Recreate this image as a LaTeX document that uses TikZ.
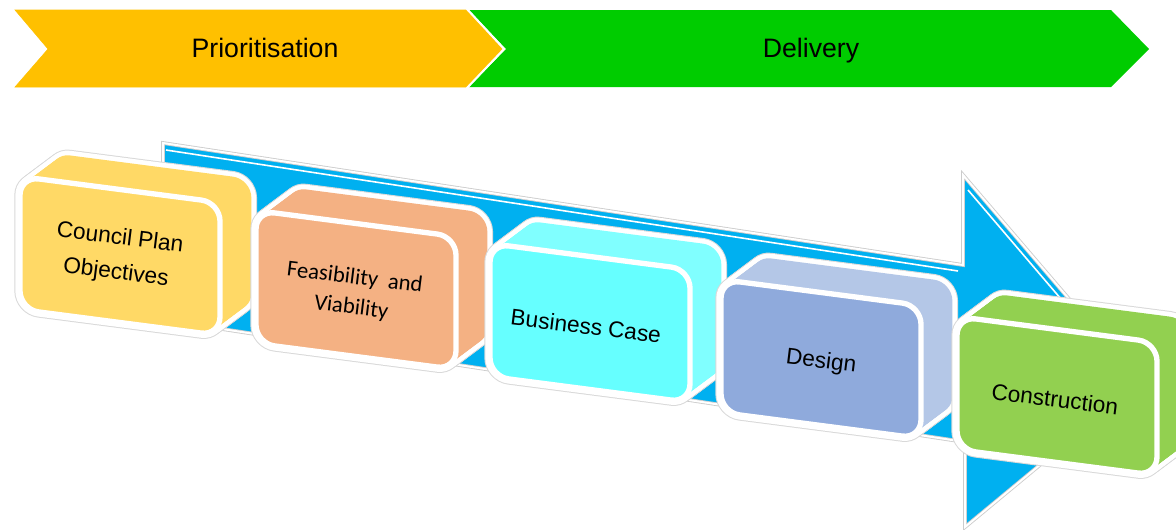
\documentclass[tikz,border=0pt]{standalone}
\usepackage{fontspec}
\setmainfont{Liberation Sans}
\newfontfamily\carlito{Carlito}
\definecolor{prioorange}{HTML}{FFC000}
\definecolor{delgreen}{HTML}{00CC00}
\definecolor{flowblue}{HTML}{00B0F0}
\definecolor{plancol}{HTML}{FFD966}
\definecolor{feascol}{HTML}{F4B183}
\definecolor{casecol}{HTML}{66FFFF}
\definecolor{caseside}{HTML}{80FFFF}
\definecolor{designcol}{HTML}{8FAADC}
\definecolor{designside}{HTML}{B4C7E7}
\definecolor{buildcol}{HTML}{92D050}

% 3D stage box: centre, side colour, front colour
\newcommand{\stagebox}[3]{%
  \begin{scope}[shift={(#1)},yslant=-0.13,rounded corners=14pt]
    \foreach \t in {0,0.05,...,1}
      \draw[gray!30,line width=8.5pt] (33*\t-100,-29*\t-66.5) rectangle ++(200,133);
    \foreach \t in {0,0.05,...,1}
      \draw[white,line width=7pt] (33*\t-100,-29*\t-66.5) rectangle ++(200,133);
    \foreach \t in {0,0.05,...,1}
      \fill[#2] (33*\t-100,-29*\t-66.5) rectangle ++(200,133);
    \draw[white,line width=4pt,fill=#3] (-100,-66.5) rectangle (100,66.5);
  \end{scope}
}

\begin{document}
\begin{tikzpicture}[x=0.75pt,y=-0.75pt,
    phase/.style={anchor=base,font=\fontsize{20}{24}\selectfont},
    stage text/.style={rotate=-7,align=center,font=\fontsize{17}{26}\selectfont}]
  \useasboundingbox (0,0) rectangle (1176,529);
  \clip (0,0) rectangle (1176,529);

  % phase banner
  \fill[delgreen] (469,10) -- (1111,10) -- (1149,49) -- (1111,87) -- (469,87) -- (506,49) -- cycle;
  \draw[prioorange,fill=prioorange] (15,10) -- (466,10) -- (503,49) -- (466,87) -- (15,87) -- (48,49) -- cycle;
  \draw[white,line width=1.5pt] (467,9) -- (504,49) -- (467,88);
  \node[phase] (prio) at (265,57) {Prioritisation};
  \node[phase] (deliv) at (811,57) {Delivery};

  % big arrow behind the stages
  \draw[gray!40,line width=2.8pt,fill=flowblue] (163,143) -- (963,265) -- (963,175) -- (1140,382) -- (965,527) -- (965,442) -- (163,320) -- cycle;
  \draw[white,line width=1.5pt] (163,143) -- (963,265) -- (963,175) -- (1140,382) -- (965,527) -- (965,442) -- (163,320) -- cycle;
  \draw[white,line width=1.2pt] (166,150) -- (958,271);
  \draw[white,line width=1.2pt] (968,190) -- (1125,374);

  % stages
  \stagebox{120,256}{plancol}{plancol}
  \stagebox{356,290}{feascol}{feascol}
  \stagebox{590,323}{caseside}{casecol}
  \stagebox{821,359}{designside}{designcol}
  \stagebox{1057,396}{buildcol}{buildcol}

  \node[stage text] (plan) at (118,256) {Council Plan\\Objectives};
  \node[stage text,font=\carlito\fontsize{17}{22.5}\selectfont] (feas) at (353,293) {Feasibility\ \ and\\Viability};
  \node[stage text] (case) at (586,326) {Business Case};
  \node[stage text] (design) at (821,362) {Design};
  \node[stage text] (build) at (1055,399) {Construction};
\end{tikzpicture}
\end{document}
